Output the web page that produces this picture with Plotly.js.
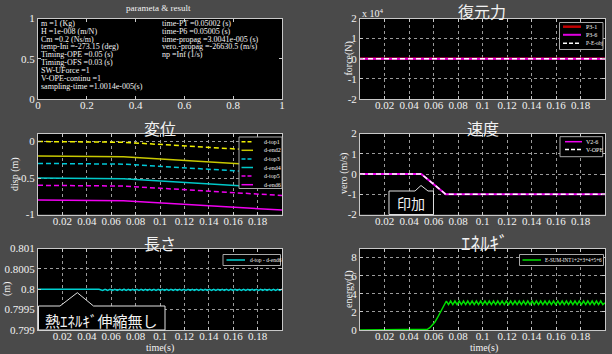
<!DOCTYPE html>
<html><head><meta charset="utf-8">
<script src="https://cdn.plot.ly/plotly-3.0.1.min.js"></script>
<style>html,body{margin:0;padding:0;background:#4a4a4a;}#chart{width:612px;height:354px;}</style>
</head><body><div id="chart"></div>
<script>
// ---------------- data ----------------
const paramTitle = "parameta & result";
const paramLeft = ["m =1 (Kg)", "H =1e-008 (m/N)", "Cm =0.2 (Ns/m)", "temp-Ini =-273.15 (deg)",
  "Timing-OPE =0.05 (s)", "Timing-OFS =0.03 (s)", "SW-UForce =1", "V-OPE-continu =1",
  "sampling-time =1.0014e-005(s)"];
const paramRight = ["time-PT =0.05002 (s)", "time-P6 =0.05005 (s)", "time-propag =3.0041e-005 (s)",
  "vero.-propag =-26630.5 (m/s)", "np =Inf (1/s)"];

const titles = ["復元力", "変位", "速度", "長さ", "ｴﾈﾙｷﾞ"];
const yLabels = ["force(N)", "disp (m)", "vero (m/s)", "(m)", "energy(J)"];
const xLabel = "time(s)";

const unitTickVals = [0, 0.2, 0.4, 0.6, 0.8, 1];
const unitTickText = ["0", "0.2", "0.4", "0.6", "0.8", "1"];
const halfTickVals = [0, 0.5, 1];
const halfTickText = ["0", "0.5", "1"];
const timeTickVals = [0.02, 0.04, 0.06, 0.08, 0.1, 0.12, 0.14, 0.16, 0.18];
const timeTickText = ["0.02", "0.04", "0.06", "0.08", "0.1", "0.12", "0.14", "0.16", "0.18"];
const forceTickVals = [-20000, -10000, 0, 10000, 20000];
const forceTickText = ["-2", "-1", "0", "1", "2"];
const dispTickVals = [-1, -0.5, 0];
const dispTickText = ["-1", "-0.5", "0"];
const veloTickVals = [-2, -1, 0, 1, 2];
const veloTickText = ["-2", "-1", "0", "1", "2"];
const lenTickVals = [0.799, 0.7995, 0.8, 0.8005, 0.801];
const lenTickText = ["0.799", "0.7995", "0.8", "0.8005", "0.801"];
const energyTickVals = [0, 2, 4, 6, 8];
const energyTickText = ["0", "2", "4", "6", "8"];

// force
const forceNames = ["P3-1", "P3-6", "P-E-obj"];
const forceTime = [0, 0.2];
const forceP31 = [0, 0];
const forceP36 = [0, 0];
const forcePE = [0, 0];

// displacement
const dispNames = ["d-top1", "d-end2", "d-top3", "d-end4", "d-top5", "d-end6"];
const dispTime = [0, 0.05, 0.06, 0.07, 0.2];
const dTop1 = [0, 0, -0.0025, -0.01, -0.14];
const dEnd2 = [-0.2, -0.2, -0.2025, -0.21, -0.34];
const dTop3 = [-0.3, -0.3, -0.3025, -0.31, -0.44];
const dEnd4 = [-0.5, -0.5, -0.5025, -0.51, -0.64];
const dTop5 = [-0.6, -0.6, -0.6025, -0.61, -0.74];
const dEnd6 = [-0.8, -0.8, -0.8025, -0.81, -0.94];

// velocity
const veloNames = ["V2-6", "V-OPE"];
const veloTime = [0, 0.05, 0.07, 0.2];
const v26 = [0, 0, -1, -1];
const vOPE = [0, 0, -1, -1];

// sampled time for length and energy
const sampleTime = [0, 0.05, 0.053, 0.055, 0.057, 0.059, 0.061, 0.063, 0.065, 0.067, 0.069, 0.0705,
  0.07225, 0.074, 0.07575, 0.0775, 0.07925, 0.081, 0.08275, 0.0845, 0.08625, 0.088,
  0.08975, 0.0915, 0.09325, 0.095, 0.09675, 0.0985, 0.10025, 0.102, 0.10375, 0.1055,
  0.10725, 0.109, 0.11075, 0.1125, 0.11425, 0.116, 0.11775, 0.1195, 0.12125, 0.123,
  0.12475, 0.1265, 0.12825, 0.13, 0.13175, 0.1335, 0.13525, 0.137, 0.13875, 0.1405,
  0.14225, 0.144, 0.14575, 0.1475, 0.14925, 0.151, 0.15275, 0.1545, 0.15625, 0.158,
  0.15975, 0.1615, 0.16325, 0.165, 0.16675, 0.1685, 0.17025, 0.172, 0.17375, 0.1755,
  0.17725, 0.179, 0.18075, 0.1825, 0.18425, 0.186, 0.18775, 0.1895, 0.19125, 0.193,
  0.19475, 0.1965, 0.19825, 0.2];
const lenName = "d-top - d-end6";
const lenValues = [0.8, 0.8,
  0.79997, 0.8, 0.79997, 0.8, 0.79997, 0.8, 0.79997, 0.8, 0.79997, 0.8,
  0.79997, 0.8, 0.79997, 0.8, 0.79997, 0.8, 0.79997, 0.8, 0.79997, 0.8,
  0.79997, 0.8, 0.79997, 0.8, 0.79997, 0.8, 0.79997, 0.8, 0.79997, 0.8,
  0.79997, 0.8, 0.79997, 0.8, 0.79997, 0.8, 0.79997, 0.8, 0.79997, 0.8,
  0.79997, 0.8, 0.79997, 0.8, 0.79997, 0.8, 0.79997, 0.8, 0.79997, 0.8,
  0.79997, 0.8, 0.79997, 0.8, 0.79997, 0.8, 0.79997, 0.8, 0.79997, 0.8,
  0.79997, 0.8, 0.79997, 0.8, 0.79997, 0.8, 0.79997, 0.8, 0.79997, 0.8,
  0.79997, 0.8, 0.79997, 0.8, 0.79997, 0.8, 0.79997, 0.8, 0.79997, 0.8,
  0.79997, 0.8, 0.79997, 0.8];
const energyName = "E-SUM-INT1+2+3+4+5+6";
const energyValues = [0, 0, 0, 0.08, 0.25, 0.5, 0.85, 1.3, 1.8, 2.35, 2.9, 3.2,
  2.8, 3.2, 2.8, 3.2, 2.8, 3.2, 2.8, 3.2, 2.8, 3.2,
  2.8, 3.2, 2.8, 3.2, 2.8, 3.2, 2.8, 3.2, 2.8, 3.2,
  2.8, 3.2, 2.8, 3.2, 2.8, 3.2, 2.8, 3.2, 2.8, 3.2,
  2.8, 3.2, 2.8, 3.2, 2.8, 3.2, 2.8, 3.2, 2.8, 3.2,
  2.8, 3.2, 2.8, 3.2, 2.8, 3.2, 2.8, 3.2, 2.8, 3.2,
  2.8, 3.2, 2.8, 3.2, 2.8, 3.2, 2.8, 3.2, 2.8, 3.2,
  2.8, 3.2, 2.8, 3.2, 2.8, 3.2, 2.8, 3.2, 2.8, 3.2,
  2.8, 3.2, 2.8, 3.0];

const calloutApply = "印加";
const calloutHeat = "熱ｴﾈﾙｷﾞ伸縮無し";

// ---------------- layout helpers ----------------
const W = 612, H = 354;
const X = p => p / W, Y = p => 1 - p / H;
const LX = [X(38), X(282)], RX = [X(360), X(605)];
const R1 = [Y(99), Y(18.5)], R2 = [Y(214.5), Y(133.5)], R3 = [Y(330), Y(248.5)];
const SERIF = "Liberation Serif";
const CJK = "Noto Sans CJK JP";
const WHITE = "#f2f2f2";

function ax(dom, anchor, extra) {
  return Object.assign({
    domain: dom, anchor: anchor, showline: true, mirror: 'allticks', linecolor: '#c8c8c8', linewidth: 1,
    ticks: 'inside', ticklen: 3, tickcolor: '#c8c8c8', showgrid: true, gridcolor: '#9a9a9a',
    griddash: 'dot', gridwidth: 1, zeroline: false, tickmode: 'array',
    tickfont: {family: SERIF, size: 11, color: WHITE}, fixedrange: true
  }, extra);
}
function xax(dom, anchor, extra) {
  return ax(dom, anchor, Object.assign({ticklabelstandoff: -4}, extra));
}

const DASH = '5px,3px';
const traces = [
  {x: [0], y: [-1], xaxis: 'x', yaxis: 'y', type: 'scatter', mode: 'markers', marker: {opacity: 0}},
  {x: forceTime, y: forceP31, xaxis: 'x2', yaxis: 'y2', mode: 'lines', line: {color: '#c00000', width: 2.5}},
  {x: forceTime, y: forceP36, xaxis: 'x2', yaxis: 'y2', mode: 'lines', line: {color: '#e000e0', width: 2}},
  {x: forceTime, y: forcePE, xaxis: 'x2', yaxis: 'y2', mode: 'lines', line: {color: '#ffffff', width: 1.5, dash: DASH}},
  {x: dispTime, y: dTop1, xaxis: 'x3', yaxis: 'y3', mode: 'lines', line: {color: '#f0f000', width: 1.5, dash: DASH}},
  {x: dispTime, y: dEnd2, xaxis: 'x3', yaxis: 'y3', mode: 'lines', line: {color: '#c8c800', width: 1.5}},
  {x: dispTime, y: dTop3, xaxis: 'x3', yaxis: 'y3', mode: 'lines', line: {color: '#00c8d8', width: 1.5, dash: DASH}},
  {x: dispTime, y: dEnd4, xaxis: 'x3', yaxis: 'y3', mode: 'lines', line: {color: '#00c8c8', width: 1.5}},
  {x: dispTime, y: dTop5, xaxis: 'x3', yaxis: 'y3', mode: 'lines', line: {color: '#f000f0', width: 1.5, dash: DASH}},
  {x: dispTime, y: dEnd6, xaxis: 'x3', yaxis: 'y3', mode: 'lines', line: {color: '#f000f0', width: 1.5}},
  {x: veloTime, y: v26, xaxis: 'x4', yaxis: 'y4', mode: 'lines', line: {color: '#f000f0', width: 2}},
  {x: veloTime, y: vOPE, xaxis: 'x4', yaxis: 'y4', mode: 'lines', line: {color: '#ffffff', width: 1.5, dash: DASH}},
  {x: sampleTime, y: lenValues, xaxis: 'x5', yaxis: 'y5', mode: 'lines', line: {color: '#00d0d0', width: 1.5}},
  {x: sampleTime, y: energyValues, xaxis: 'x6', yaxis: 'y6', mode: 'lines', line: {color: '#00e000', width: 1.5}}
];

const shapes = [];
const annotations = [];
function txt(x, y, text, size, opts) {
  annotations.push(Object.assign({xref: 'paper', yref: 'paper', x: X(x), y: Y(y), text: text, showarrow: false,
    font: {family: SERIF, size: size, color: WHITE}, xanchor: 'center', yanchor: 'middle'}, opts || {}));
}
function legBox(x0, y0, x1, y1) {
  shapes.push({type: 'rect', xref: 'paper', yref: 'paper', x0: X(x0), x1: X(x1), y0: Y(y0), y1: Y(y1),
    fillcolor: '#000000', line: {color: '#a8a8a8', width: 1}, layer: 'above'});
}
function legItem(lx0, lx1, ly, tx, name, line, size) {
  shapes.push({type: 'line', xref: 'paper', yref: 'paper', x0: X(lx0), x1: X(lx1), y0: Y(ly), y1: Y(ly),
    line: line, layer: 'above'});
  txt(tx, ly, name, size || 6, {xanchor: 'left'});
}
function path(pts) {
  return 'M' + pts.map(p => X(p[0]).toFixed(5) + ',' + Y(p[1]).toFixed(5)).join(' L') + ' Z';
}

// panel 1 text
txt(158, 8, paramTitle, 9);
paramLeft.forEach((s, i) => txt(39, 23.3 + i * 7.9, s, 8, {xanchor: 'left'}));
paramRight.forEach((s, i) => txt(160, 23.3 + i * 7.9, s, 8, {xanchor: 'left'}));

// titles
txt(482, 11.5, titles[0], 16, {font: {family: CJK, size: 16, color: WHITE}});
txt(160, 128, titles[1], 16, {font: {family: CJK, size: 16, color: WHITE}});
txt(483, 128, titles[2], 16, {font: {family: CJK, size: 16, color: WHITE}});
txt(160, 243, titles[3], 16, {font: {family: CJK, size: 16, color: WHITE}});
txt(485, 242, titles[4], 19, {font: {family: CJK, size: 19, color: WHITE}});

// y labels
txt(348, 58.5, yLabels[0], 10, {textangle: -90});
txt(15, 174, yLabels[1], 10, {textangle: -90});
txt(344, 174, yLabels[2], 10, {textangle: -90});
txt(7, 289, yLabels[3], 10, {textangle: -90});
txt(349, 289, yLabels[4], 10, {textangle: -90});
txt(160, 347.5, xLabel, 10);
txt(484, 347.5, xLabel, 10);
txt(360, 13, "x 10<sup>4</sup>", 10, {xanchor: 'left'});

// legends
const LW = 1.5;
legBox(559.5, 22.5, 603, 49.5);
legItem(563, 581, 26.7, 584, forceNames[0], {color: '#c00000', width: 2.5});
legItem(563, 581, 34.8, 584, forceNames[1], {color: '#e000e0', width: 2});
legItem(563, 581, 43.3, 584, forceNames[2], {color: '#ffffff', width: LW, dash: '4px,2px'}, 5.5);

legBox(239, 137, 282, 188.5);
const dispCols = [['#f0f000', '4px,2px'], ['#c8c800', 'solid'], ['#00c8d8', '4px,2px'], ['#00c8c8', 'solid'], ['#f000f0', '4px,2px'], ['#f000f0', 'solid']];
dispNames.forEach((n, i) => legItem(241.5, 253, 141.7 + i * 8.6, 262, n, {color: dispCols[i][0], width: LW, dash: dispCols[i][1]}));

legBox(560, 136.7, 602.7, 156.7);
legItem(565, 582, 141.7, 584, veloNames[0], {color: '#f000f0', width: LW});
legItem(565, 582, 149.5, 584, veloNames[1], {color: '#ffffff', width: LW, dash: '4px,2px'});

legBox(223, 254.5, 280.5, 265.5);
legItem(226.5, 245, 260, 248, lenName, {color: '#00d0d0', width: LW}, 5.5);

legBox(519.5, 254.5, 603.5, 265.5);
legItem(522.5, 541, 260, 542.5, energyName, {color: '#00e000', width: LW}, 5.2);

// callouts
shapes.push({type: 'path', xref: 'paper', yref: 'paper', layer: 'above', fillcolor: '#000000',
  line: {color: '#e0e0e0', width: 1},
  path: path([[389, 191], [415, 191], [421, 185.5], [428, 191], [433.5, 191], [433.5, 214.5], [389, 214.5]])});
txt(411, 203, calloutApply, 14, {font: {family: CJK, size: 14, color: WHITE}});
shapes.push({type: 'path', xref: 'paper', yref: 'paper', layer: 'above', fillcolor: '#000000',
  line: {color: '#e0e0e0', width: 1},
  path: path([[38.5, 306], [60, 306], [77.3, 292.7], [93.5, 306], [165, 306], [165, 330], [38.5, 330]])});
txt(101, 320.5, calloutHeat, 15, {font: {family: CJK, size: 15, color: WHITE}});

const layout = {
  width: W, height: H, margin: {l: 0, r: 0, t: 0, b: 0},
  paper_bgcolor: '#4a4a4a', plot_bgcolor: '#000000', showlegend: false,
  xaxis: xax(LX, 'y', {range: [0, 1], tickvals: unitTickVals, ticktext: unitTickText, showgrid: false}),
  yaxis: ax(R1, 'x', {range: [0, 1], tickvals: halfTickVals, ticktext: halfTickText, showgrid: false}),
  xaxis2: xax(RX, 'y2', {range: [0, 0.2], tickvals: timeTickVals, ticktext: timeTickText}),
  yaxis2: ax(R1, 'x2', {range: [-20000, 20000], tickvals: forceTickVals, ticktext: forceTickText}),
  xaxis3: xax(LX, 'y3', {range: [0, 0.2], tickvals: timeTickVals, ticktext: timeTickText}),
  yaxis3: ax(R2, 'x3', {range: [-1, 0.11], tickvals: dispTickVals, ticktext: dispTickText}),
  xaxis4: xax(RX, 'y4', {range: [0, 0.2], tickvals: timeTickVals, ticktext: timeTickText}),
  yaxis4: ax(R2, 'x4', {range: [-2, 2], tickvals: veloTickVals, ticktext: veloTickText}),
  xaxis5: xax(LX, 'y5', {range: [0, 0.2], tickvals: timeTickVals, ticktext: timeTickText}),
  yaxis5: ax(R3, 'x5', {range: [0.799, 0.801], tickvals: lenTickVals, ticktext: lenTickText}),
  xaxis6: xax(RX, 'y6', {range: [0, 0.2], tickvals: timeTickVals, ticktext: timeTickText}),
  yaxis6: ax(R3, 'x6', {range: [0, 9], tickvals: energyTickVals, ticktext: energyTickText}),
  shapes: shapes, annotations: annotations
};

Plotly.newPlot('chart', traces, layout, {staticPlot: true, displayModeBar: false});
</script>
</body></html>
